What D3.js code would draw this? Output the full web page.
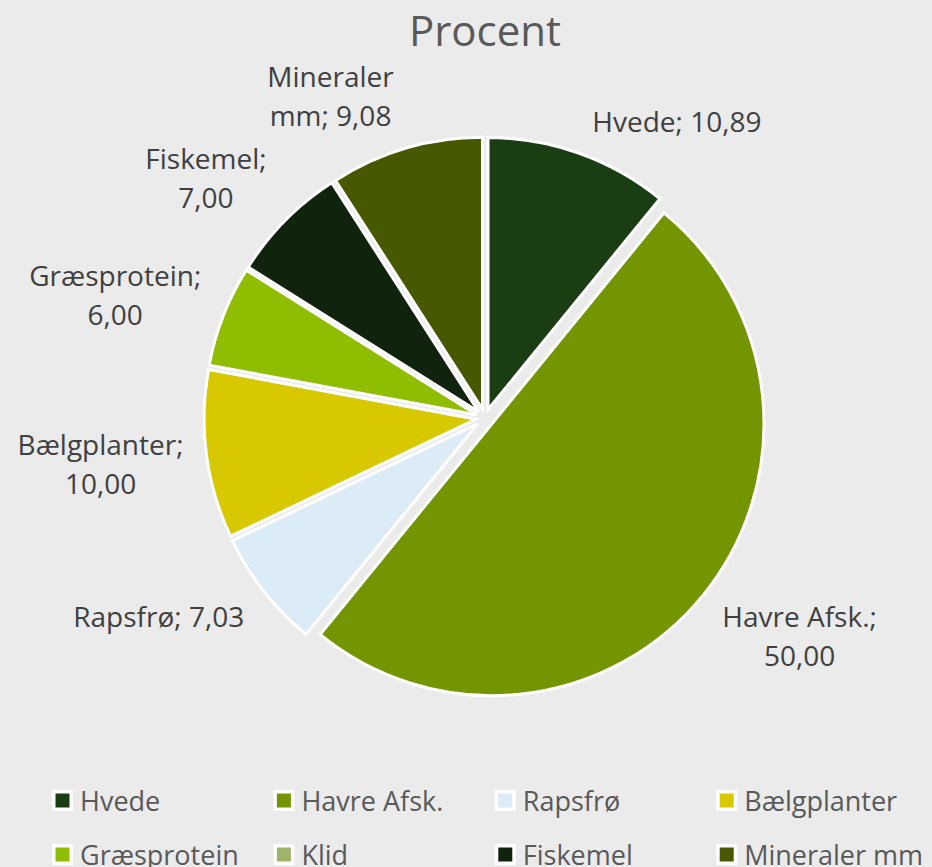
<!DOCTYPE html>
<html lang="da">
<head>
  <meta charset="utf-8">
  <title>Procent</title>
  <script src="https://d3js.org/d3.v7.min.js"></script>
  <style>
    body {
      margin: 0;
      background: #ebebeb;
      font-family: "Open Sans", sans-serif;
    }
    svg { display: block; }
  </style>
</head>
<body>
  <svg id="chart" width="932" height="867"></svg>

  <script>
    // data
    const categories = ["Hvede", "Havre Afsk.", "Rapsfrø", "Bælgplanter", "Græsprotein", "Klid", "Fiskemel", "Mineraler mm"];
    const values = [10.89, 50.00, 7.03, 10.00, 6.00, 0, 7.00, 9.08];
    const colors = ["#1a3d14", "#739600", "#dbecf6", "#d8c800", "#8fbe00", "#a2b46c", "#10230d", "#465800"];
    // how the data labels are wrapped in the picture (null = one line)
    const labelBreaks = [null, "; ", null, "; ", "; ", null, "; ", " "];

    const width = 932, height = 867;
    const cx = 485, cy = 418;
    const radius = 272;
    const explode = 9;

    const locale = d3.formatLocale({ decimal: ",", thousands: ".", grouping: [3], currency: ["", " kr."] });
    const fmt = locale.format(".2f");

    const rows = categories.map((name, i) => ({ name, value: values[i], color: colors[i], brk: labelBreaks[i] }));

    const svg = d3.select("#chart");

    svg.append("text")
        .attr("x", cx)
        .attr("y", 46)
        .attr("text-anchor", "middle")
        .attr("fill", "#595959")
        .style("font-size", "42px")
        .text("Procent");

    const pie = d3.pie().sort(null).value(d => d.value);
    const arcs = pie(rows).filter(d => d.data.value > 0);

    const arc = d3.arc().innerRadius(0).outerRadius(radius);

    const g = svg.append("g").attr("transform", `translate(${cx},${cy})`);

    const mid = d => (d.startAngle + d.endAngle) / 2;

    g.selectAll("path")
      .data(arcs)
      .join("path")
        .attr("d", arc)
        .attr("fill", d => d.data.color)
        .attr("stroke", "#ffffff")
        .attr("stroke-width", 3)
        .attr("transform", d => `translate(${explode * Math.sin(mid(d))},${-explode * Math.cos(mid(d))})`);

    // data labels, placed just outside each slice
    const lineH = 39;
    const labels = g.append("g")
        .attr("fill", "#404040")
        .attr("text-anchor", "middle")
        .style("font-size", "28px")
      .selectAll("text")
      .data(arcs)
      .join("text");

    labels.each(function(d) {
      const full = `${d.data.name}; ${fmt(d.data.value)}`;
      let lines = [full];
      if (d.data.brk) {
        const k = full.indexOf(d.data.brk);
        lines = [full.slice(0, k + d.data.brk.trimEnd().length), full.slice(k + d.data.brk.length)];
      }
      const t = d3.select(this);
      lines.forEach(l => t.append("tspan").text(l));
      const w = d3.max(t.selectAll("tspan").nodes(), n => n.getComputedTextLength());
      const h = lines.length * lineH;
      const a = mid(d);
      const r = radius + explode + 15;
      const px = r * Math.sin(a), py = -r * Math.cos(a);
      const s = Math.sin(a), c = Math.cos(a);
      const bx = px + (w / 2 + 8) * Math.sign(s);
      const by = py - (h / 2) * Math.max(-1, Math.min(1, 1.2 * c));
      const top = by - h / 2;
      t.selectAll("tspan")
          .attr("x", bx)
          .attr("y", (_, i) => top + i * lineH + lineH / 2 + 12);
    });

    // legend, 4 columns x 2 rows
    const colStep = 221.4;
    const legend = svg.append("g")
      .selectAll("g")
      .data(rows)
      .join("g")
        .attr("transform", (d, i) => `translate(${52 + (i % 4) * colStep},${800.5 + Math.floor(i / 4) * 54})`);

    legend.append("rect")
        .attr("x", 1.75)
        .attr("y", -8.75)
        .attr("width", 17.5)
        .attr("height", 17.5)
        .attr("fill", d => d.color)
        .attr("stroke", "#ffffff")
        .attr("stroke-width", 3.5);

    legend.append("text")
        .attr("x", 28)
        .attr("y", 10)
        .attr("fill", "#595959")
        .style("font-size", "27px")
        .text(d => d.name);
  </script>
</body>
</html>
